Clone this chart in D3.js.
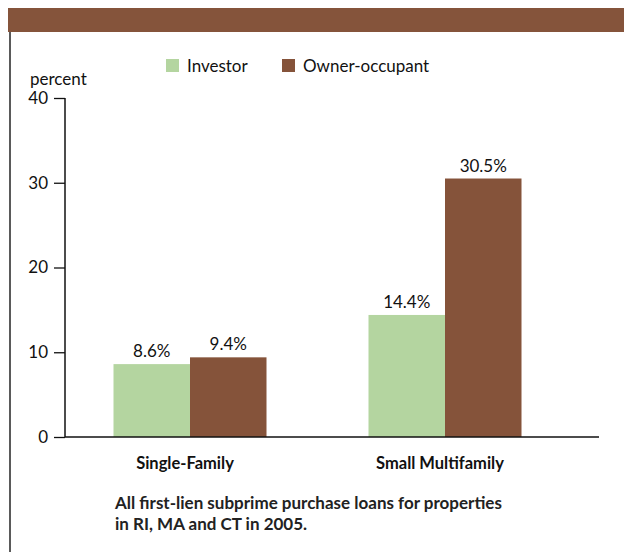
<!DOCTYPE html>
<html>
<head>
<meta charset="utf-8">
<script src="https://cdn.jsdelivr.net/npm/d3@7"></script>
<style>
  html, body { margin: 0; padding: 0; background: #fff; }
  svg { display: block; font-family: Lato, "Open Sans", sans-serif; }
</style>
</head>
<body>
<svg id="chart" width="624" height="552"></svg>
<script>
const categories = ["Single-Family", "Small Multifamily"];
const seriesNames = ["Investor", "Owner-occupant"];
const investor = [8.6, 14.4];
const ownerOccupant = [9.4, 30.5];
const yTicks = [0, 10, 20, 30, 40];
const colors = ["#b4d5a0", "#85533a"];
const footnote = ["All first-lien subprime purchase loans for properties", "in RI, MA and CT in 2005."];

const svg = d3.select("#chart");

// header band and left border
svg.append("rect").attr("x", 8).attr("y", 8).attr("width", 616).attr("height", 24).attr("fill", "#85543b");
svg.append("line").attr("x1", 10).attr("x2", 10).attr("y1", 32).attr("y2", 552)
  .attr("stroke", "#5a5a5a").attr("stroke-width", 2);

const y = d3.scaleLinear().domain([0, 40]).range([437, 98]);
const x0 = d3.scaleBand().domain(categories).range([62.5, 572.5]).paddingInner(0.4).paddingOuter(0.2);
const x1 = d3.scaleBand().domain(seriesNames).range([0, x0.bandwidth()]);
const color = d3.scaleOrdinal().domain(seriesNames).range(colors);

const rows = categories.map((c, i) => ({ cat: c, vals: [
  { s: seriesNames[0], v: investor[i] },
  { s: seriesNames[1], v: ownerOccupant[i] }
]}));

// bars
const g = svg.append("g");
const groups = g.selectAll("g.grp").data(rows).join("g")
  .attr("transform", d => `translate(${x0(d.cat)},0)`);
groups.selectAll("rect").data(d => d.vals).join("rect")
  .attr("x", d => x1(d.s))
  .attr("width", x1.bandwidth())
  .attr("y", d => y(d.v))
  .attr("height", d => y(0) - y(d.v))
  .attr("fill", d => color(d.s));
groups.selectAll("text.val").data(d => d.vals).join("text")
  .attr("class", "val")
  .attr("x", d => x1(d.s) + x1.bandwidth() / 2)
  .attr("y", d => y(d.v) - 7)
  .attr("text-anchor", "middle")
  .attr("font-size", 17)
  .attr("fill", "#111")
  .text(d => d.v.toFixed(1) + "%");

// y axis
const yAxis = d3.axisLeft(y).tickValues(yTicks).tickSize(11).tickPadding(6).tickFormat(d3.format("d"));
const ya = svg.append("g").attr("transform", "translate(65,0)").call(yAxis);
ya.select(".domain").remove();
ya.append("line").attr("x1", 0).attr("x2", 0).attr("y1", y(40)).attr("y2", y(0))
  .attr("stroke", "#111").attr("stroke-width", 1.5);
ya.selectAll(".tick line").attr("stroke", "#111").attr("stroke-width", 1.3);
ya.selectAll(".tick text").attr("font-size", 17).attr("fill", "#111").attr("font-family", "Lato, sans-serif");

svg.append("text").attr("x", 30).attr("y", 85).attr("font-size", 17).attr("fill", "#111").text("percent");

// x axis
const xAxis = d3.axisBottom(x0).tickSize(0).tickPadding(20);
const xa = svg.append("g").attr("transform", `translate(0,${y(0)})`).call(xAxis);
xa.select(".domain").remove();
xa.append("line").attr("x1", 65).attr("x2", 599).attr("y1", 0).attr("y2", 0)
  .attr("stroke", "#111").attr("stroke-width", 1.5);
xa.selectAll(".tick text").attr("font-size", 16.5).attr("font-weight", "bold").attr("fill", "#111")
  .attr("font-family", "Lato, sans-serif").attr("dx", -5);

// legend
const legendX = [166, 282];
const lg = svg.append("g").selectAll("g").data(seriesNames).join("g")
  .attr("transform", (d, i) => `translate(${legendX[i]},59)`);
lg.append("rect").attr("width", 13).attr("height", 13).attr("fill", d => color(d));
lg.append("text").attr("x", 21).attr("y", 12.5).attr("font-size", 17).attr("fill", "#111").text(d => d);

// footnote
svg.append("g").selectAll("text").data(footnote).join("text")
  .attr("x", 115).attr("y", (d, i) => 509 + i * 20.5)
  .attr("font-size", 17).attr("font-weight", "bold").attr("fill", "#222").text(d => d);
</script>
</body>
</html>
